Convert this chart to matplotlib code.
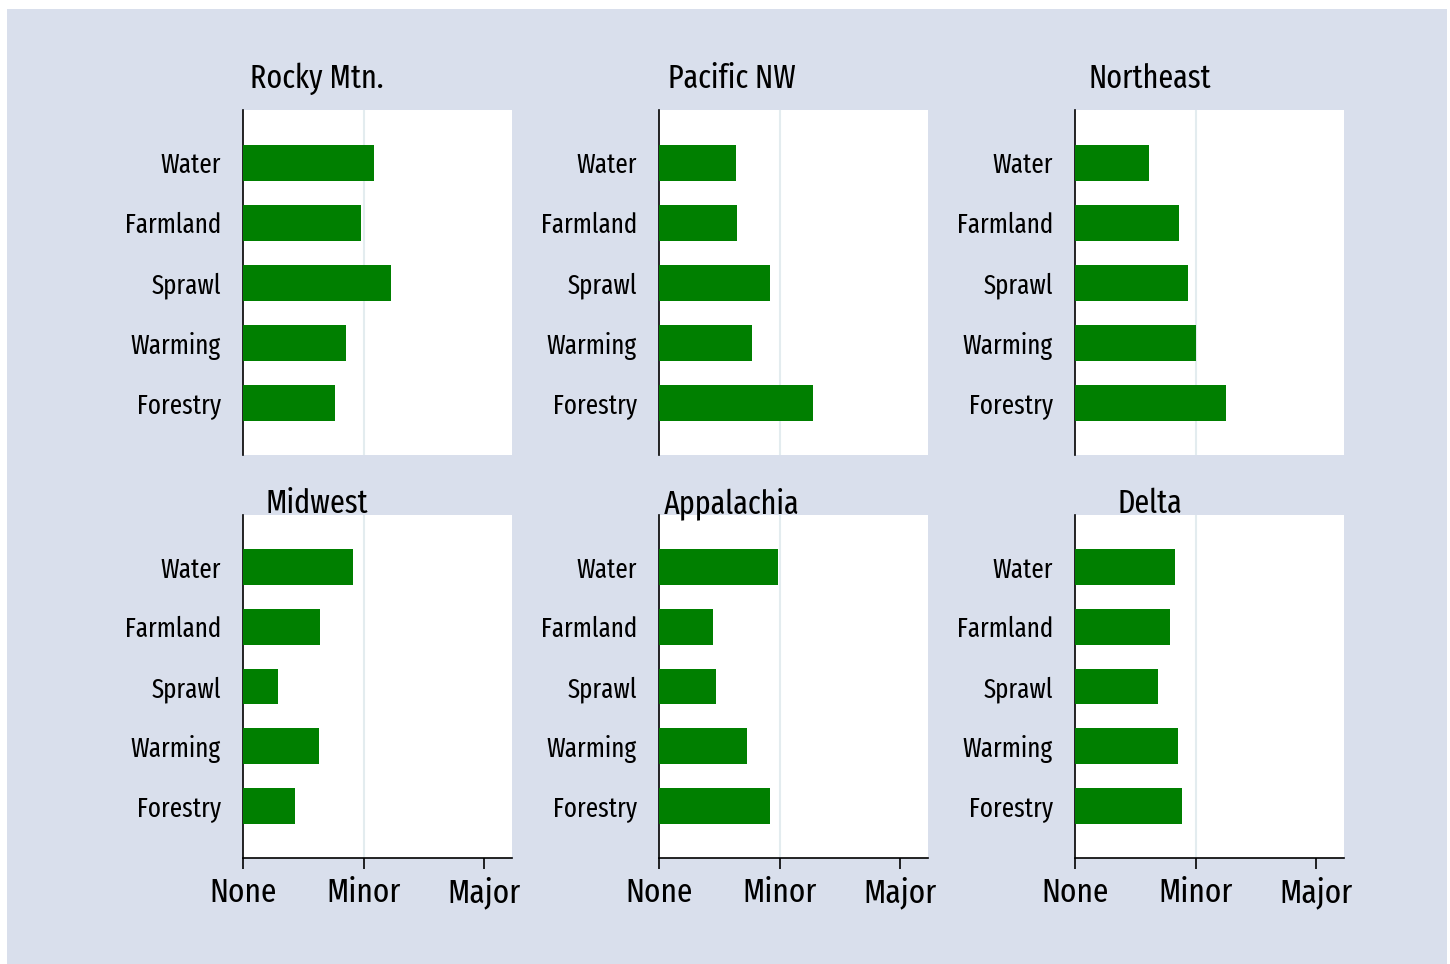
import matplotlib
matplotlib.use("Agg")
import matplotlib.pyplot as plt
from matplotlib import font_manager
from matplotlib.patches import Rectangle

# ── Data ─────────────────────────────────────────────────────────────────────
regions = ["Rocky Mtn.", "Pacific NW", "Northeast", "Midwest", "Appalachia", "Delta"]
threats = ["Water", "Farmland", "Sprawl", "Warming", "Forestry"]
rocky      = [1.09, 0.98, 1.23, 0.85, 0.76]
pacific_nw = [0.64, 0.65, 0.92, 0.77, 1.28]
northeast  = [0.61, 0.86, 0.94, 1.00, 1.25]
midwest    = [0.91, 0.64, 0.29, 0.63, 0.43]
appalachia = [0.99, 0.45, 0.47, 0.73, 0.92]
delta      = [0.83, 0.79, 0.69, 0.85, 0.89]
scores = [rocky, pacific_nw, northeast, midwest, appalachia, delta]
tick_vals = [0, 1, 2]
tick_labels = ["None", "Minor", "Major"]

# ── Fonts: a condensed humanist face if one is around ─────────────────────────
installed = {f.name for f in font_manager.fontManager.ttflist}
for cand in ["Fira Sans Extra Condensed", "Fira Sans Condensed", "PT Sans Narrow",
             "Roboto Condensed", "Liberation Sans Narrow", "Roboto"]:
    if cand in installed:
        plt.rcParams["font.family"] = [cand, "DejaVu Sans"]
        break

W, H = 1450, 964
fig = plt.figure(figsize=(W / 100, H / 100), dpi=100)
fig.patch.set_facecolor("white")
fig.patches.append(Rectangle((7 / W, 0), (1447 - 7) / W, 1 - 9 / H,
                             transform=fig.transFigure, facecolor="#d9dfec",
                             edgecolor="none", zorder=-10))

bar_color = "#007f00"
lefts = [243, 659, 1075]
rows = [(110, 455), (515, 858)]
title_x = [317, 732, 1150]
title_base = [88, 513]

for i, (name, vals) in enumerate(zip(regions, scores)):
    r, c = divmod(i, 3)
    x0 = lefts[c]
    y_top, y_bot = rows[r]
    ax = fig.add_axes([x0 / W, 1 - y_bot / H, 269 / W, (y_bot - y_top) / H])
    ax.set_facecolor("white")
    ypos = list(range(len(threats)))[::-1]
    ax.barh(ypos, vals, height=0.6, color=bar_color, zorder=3)
    ax.axvline(1, color="#e3ecef", lw=1.5, zorder=1)
    ax.set_xlim(0, 2.23)
    ax.set_ylim(-0.875, 4.875)
    ax.set_yticks(ypos)
    ax.set_yticklabels(threats, fontsize=19.5)
    ax.tick_params(axis="y", length=0, pad=16)
    for s in ["top", "right"]:
        ax.spines[s].set_visible(False)
    ax.spines["left"].set_color("black")
    ax.spines["left"].set_linewidth(1.2)
    if r == 1:
        ax.set_xticks(tick_vals)
        ax.set_xticklabels(tick_labels, fontsize=24.5, va="baseline")
        ax.tick_params(axis="x", length=8, width=1.2, pad=24)
        ax.spines["bottom"].set_color("black")
        ax.spines["bottom"].set_linewidth(1.2)
    else:
        ax.set_xticks([])
        ax.spines["bottom"].set_visible(False)
    fig.text(title_x[c] / W, 1 - title_base[r] / H, name, fontsize=23.5,
             ha="center", va="baseline", zorder=10)

fig.savefig("out.png", dpi=100, facecolor=fig.get_facecolor())
